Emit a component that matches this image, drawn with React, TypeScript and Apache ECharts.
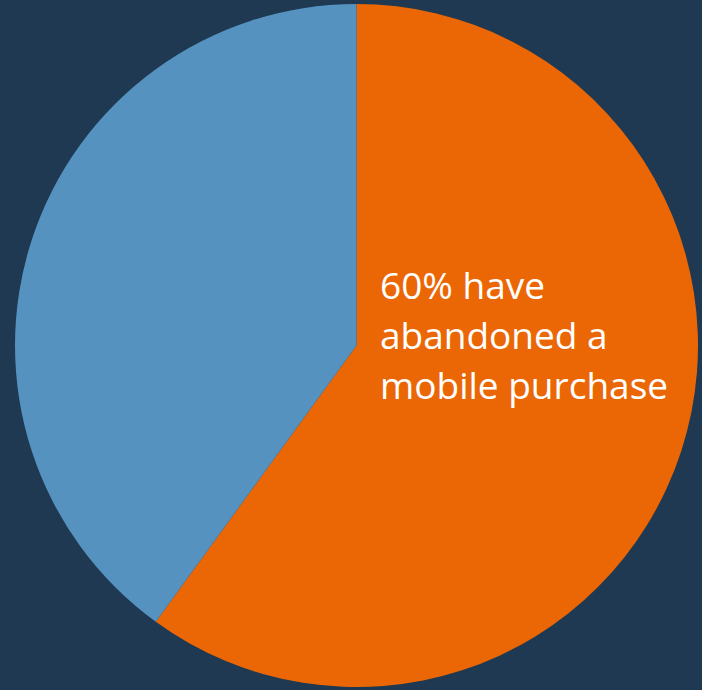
import React, { useEffect, useRef } from "react";
import * as echarts from "echarts";

const categories = ["Abandoned a mobile purchase", "Did not abandon"];
const values = [60, 40];
const colors = ["#EB6705", "#5592C0"];
const labelLines = ["60% have", "abandoned a", "mobile purchase"];

export default function App() {
  const ref = useRef<HTMLDivElement>(null);
  useEffect(() => {
    document.body.style.margin = "0";
    const chart = echarts.init(ref.current!, null, { renderer: "svg" });
    chart.setOption({
      animation: false,
      backgroundColor: "#1E3951",
      series: [
        {
          type: "pie",
          center: [356.5, 345.5],
          radius: 341.5,
          startAngle: 90,
          clockwise: true,
          label: { show: false },
          labelLine: { show: false },
          itemStyle: { borderWidth: 0 },
          data: categories.map((name, i) => ({
            name,
            value: values[i],
            itemStyle: { color: colors[i] },
          })),
        },
      ],
      graphic: [
        {
          type: "text",
          left: 380,
          top: 259,
          z: 100,
          style: {
            text: labelLines.join("\n"),
            fill: "#FFFFFF",
            fontSize: 37,
            fontFamily: "'Open Sans', sans-serif",
            lineHeight: 50,
          },
        },
      ],
    });
    return () => chart.dispose();
  }, []);
  return <div ref={ref} style={{ width: 702, height: 690 }} />;
}
